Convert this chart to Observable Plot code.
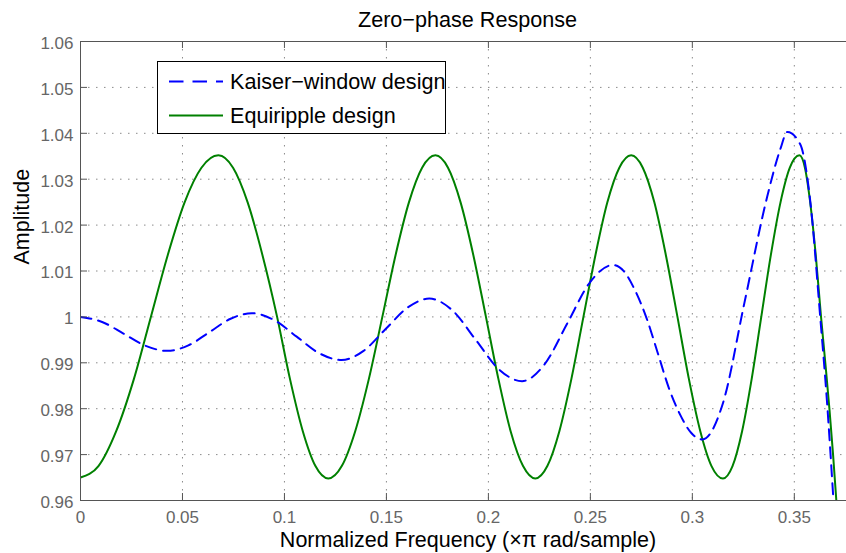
<!DOCTYPE html>
<html>
<head>
<meta charset="utf-8">
<script src="https://cdn.jsdelivr.net/npm/d3@7"></script>
<script src="https://cdn.jsdelivr.net/npm/@observablehq/plot@0.6"></script>
<style>
html, body { margin: 0; padding: 0; background: #fff; overflow: hidden; }
#wrap { position: relative; width: 846px; height: 553px; overflow: hidden; font-family: "Liberation Sans", Arial, Helvetica, sans-serif; }
#legend { position: absolute; left: 157px; top: 61px; width: 289px; height: 73px; box-sizing: border-box; border: 1px solid #000; background: #fff; }
#legend svg { position: absolute; left: 0; top: 0; }
#legend text { font-family: "Liberation Sans", Arial, Helvetica, sans-serif; font-size: 21.6px; fill: #000; }
</style>
</head>
<body>
<div id="wrap"></div>
<script>
// ---- data ----
const xTicks = [0, 0.05, 0.1, 0.15, 0.2, 0.25, 0.3, 0.35];
const xTickLabels = ["0", "0.05", "0.1", "0.15", "0.2", "0.25", "0.3", "0.35"];
const yTicks = [0.96, 0.97, 0.98, 0.99, 1.0, 1.01, 1.02, 1.03, 1.04, 1.05, 1.06];
const yTickLabels = ["0.96", "0.97", "0.98", "0.99", "1", "1.01", "1.02", "1.03", "1.04", "1.05", "1.06"];

const seriesNames = ["Kaiser\u2212window design", "Equiripple design"];

const kaiserX = [0, 0.0106, 0.0213, 0.0319, 0.0425, 0.0529, 0.0633, 0.0736, 0.0840, 0.0950,
  0.1060, 0.1170, 0.1280, 0.1388, 0.1495, 0.1603, 0.1710, 0.1824, 0.1938, 0.2051,
  0.2165, 0.2276, 0.2388, 0.2499, 0.2610, 0.2665, 0.2720, 0.2775, 0.2830, 0.2885,
  0.2940, 0.2995, 0.3050, 0.3150, 0.3255, 0.3366, 0.3431, 0.3466, 0.3529, 0.3578,
  0.3627, 0.3660, 0.3692, 0.3720];
const kaiserY = [1.0000, 0.9989, 0.9963, 0.9937, 0.9926, 0.9938, 0.9967, 0.9996, 1.0008, 0.9993,
  0.9957, 0.9921, 0.9906, 0.9926, 0.9973, 1.0020, 1.0040, 1.0014, 0.9950, 0.9886,
  0.9860, 0.9897, 0.9987, 1.0076, 1.0113, 1.0099, 1.0057, 0.9998, 0.9922, 0.9845,
  0.9787, 0.9747, 0.9733, 0.9812, 1.0030, 1.0260, 1.0365, 1.0403, 1.0376, 1.0253,
  1.0000, 0.9817, 0.9600, 0.9400];

const equiX = [0, 0.0088, 0.0175, 0.0262, 0.0345, 0.0428, 0.0510, 0.0593, 0.0676,
  0.0748, 0.0820, 0.0892, 0.0964, 0.1027, 0.1090, 0.1152, 0.1215,
  0.1281, 0.1347, 0.1414, 0.1480, 0.1545, 0.1610, 0.1675, 0.1740,
  0.1802, 0.1864, 0.1926, 0.1988, 0.2049, 0.2109, 0.2170, 0.2230,
  0.2289, 0.2348, 0.2407, 0.2466, 0.2525, 0.2583, 0.2642, 0.2700,
  0.2757, 0.2814, 0.2870, 0.2927, 0.2983, 0.3039, 0.3094, 0.3150,
  0.3197, 0.3244, 0.3291, 0.3338, 0.3385, 0.3432, 0.3478, 0.3525,
  0.3552, 0.3578, 0.3605, 0.3631, 0.3652, 0.3672, 0.3690, 0.3706, 0.3740];
const equiY = [0.9650, 0.9675, 0.9751, 0.9865, 1.0000, 1.0135, 1.0249, 1.0325, 1.0352,
  1.0325, 1.0249, 1.0135, 1.0000, 0.9865, 0.9751, 0.9675, 0.9648,
  0.9675, 0.9751, 0.9865, 1.0000, 1.0135, 1.0249, 1.0325, 1.0352,
  1.0325, 1.0249, 1.0135, 1.0000, 0.9865, 0.9751, 0.9675, 0.9648,
  0.9675, 0.9751, 0.9865, 1.0000, 1.0135, 1.0249, 1.0325, 1.0352,
  1.0325, 1.0249, 1.0135, 1.0000, 0.9865, 0.9751, 0.9675, 0.9648,
  0.9675, 0.9751, 0.9865, 1.0000, 1.0135, 1.0249, 1.0325, 1.0352,
  1.0325, 1.0249, 1.0135, 1.0000, 0.9900, 0.9800, 0.9700, 0.9600, 0.9380];

const xDomain = [0, 0.38];
const yDomain = [0.96, 1.06];

// ---- build ----
const kaiser = kaiserX.map((x, i) => ({x, y: kaiserY[i]}));
const equi = equiX.map((x, i) => ({x, y: equiY[i]}));

const W = 846, H = 553, mL = 80, mT = 41, mB = 53, mR = 0;
const frameW = W - mL - mR, frameH = H - mT - mB;
const tickLen = 7;
const axisColor = "#555";
const gridStyle = {stroke: "#8a8a8a", strokeOpacity: 1, strokeWidth: 1, strokeDasharray: "1.5,6.5"};
const font = '"Liberation Sans", Arial, Helvetica, sans-serif';

const chart = Plot.plot({
  width: W,
  height: H,
  marginLeft: mL,
  marginRight: mR,
  marginTop: mT,
  marginBottom: mB,
  x: {domain: xDomain, range: [mL, 855], axis: null},
  y: {domain: yDomain, axis: null},
  style: {fontFamily: font, background: "#fff", overflow: "hidden", color: "#000"},
  marks: [
    // dotted grid
    Plot.ruleX(xTicks.slice(1), gridStyle),
    Plot.ruleY(yTicks.slice(1, -1), gridStyle),
    // series
    Plot.line(equi, {x: "x", y: "y", stroke: "#008000", strokeWidth: 2, curve: "monotone-x", clip: true}),
    Plot.line(kaiser, {x: "x", y: "y", stroke: "#0000ff", strokeWidth: 2, strokeDasharray: "11,7", curve: "monotone-x", clip: true}),
    // box lines
    Plot.ruleX([xDomain[0]], {stroke: axisColor}),
    Plot.ruleY([yDomain[0]], {stroke: axisColor}),
    Plot.ruleY([yDomain[1]], {stroke: axisColor}),
    // inward ticks
    Plot.tickX(xTicks, {stroke: axisColor, insetTop: frameH - tickLen}),
    Plot.tickX(xTicks, {stroke: axisColor, insetBottom: frameH - tickLen}),
    Plot.tickY(yTicks, {stroke: axisColor, insetRight: frameW - tickLen}),
    // tick labels
    Plot.axisX(xTicks, {anchor: "bottom", tickSize: 0, tickPadding: 10, fontSize: 17, fill: "#666",
      tickFormat: d => xTickLabels[xTicks.indexOf(d)], label: null}),
    Plot.axisY(yTicks, {anchor: "left", tickSize: 0, tickPadding: 7, fontSize: 17, fill: "#666", dy: 2,
      tickFormat: d => yTickLabels[yTicks.indexOf(d)], label: null}),
    // titles
    Plot.text(["Zero\u2212phase Response"], {frameAnchor: "top", lineAnchor: "bottom", dy: -15, dx: 4, fontSize: 21.6, fill: "#000"}),
    Plot.text(["Normalized Frequency (\u00d7\u03c0 rad/sample)"], {frameAnchor: "bottom", lineAnchor: "bottom", dy: 46, dx: 4.5, fontSize: 21.5, fill: "#000"}),
    Plot.text(["Amplitude"], {frameAnchor: "left", rotate: -90, dx: -58, dy: -6.5, fontSize: 21.5, fill: "#000"})
  ]
});

const wrap = document.getElementById("wrap");
wrap.appendChild(chart);

// legend overlay
const legend = document.createElement("div");
legend.id = "legend";
const ns = "http://www.w3.org/2000/svg";
const lsvg = document.createElementNS(ns, "svg");
lsvg.setAttribute("width", 289);
lsvg.setAttribute("height", 73);
const legendItems = [
  {name: seriesNames[0], color: "#0000ff", dash: "14.5,9"},
  {name: seriesNames[1], color: "#008000", dash: null}
];
legendItems.forEach((it, i) => {
  const cy = 19.5 + i * 34;
  const ln = document.createElementNS(ns, "line");
  ln.setAttribute("x1", 11); ln.setAttribute("x2", 65);
  ln.setAttribute("y1", cy); ln.setAttribute("y2", cy);
  ln.setAttribute("stroke", it.color); ln.setAttribute("stroke-width", 2);
  if (it.dash) ln.setAttribute("stroke-dasharray", it.dash);
  lsvg.appendChild(ln);
  const tx = document.createElementNS(ns, "text");
  tx.setAttribute("x", 72); tx.setAttribute("y", cy); tx.setAttribute("dy", "0.35em");
  tx.textContent = it.name;
  lsvg.appendChild(tx);
});
legend.appendChild(lsvg);
wrap.appendChild(legend);
</script>
</body>
</html>
